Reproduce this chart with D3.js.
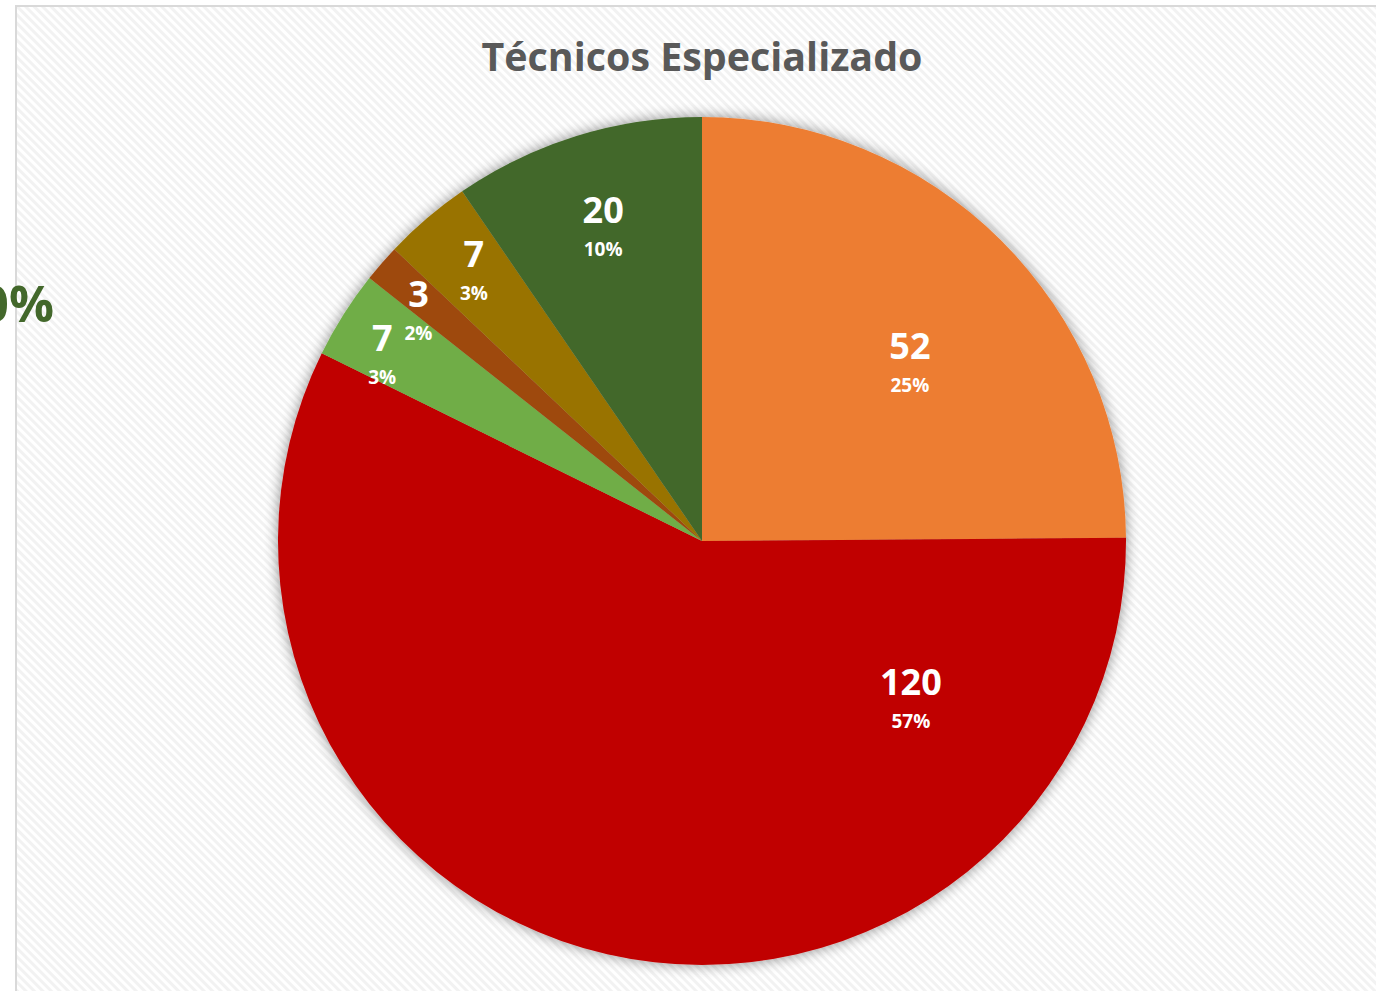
<!DOCTYPE html>
<html lang="es">
<head>
<meta charset="utf-8">
<title>Técnicos Especializado</title>
<script src="https://cdn.jsdelivr.net/npm/d3@7"></script>
<style>
  body { margin: 0; background: #fff; }
  svg { display: block; }
</style>
</head>
<body>
<script>
// Datos
var categories = ["A", "B", "C", "D", "E", "F"];
var values = [52, 120, 7, 3, 7, 20];
var pctLabels = ["25%", "57%", "3%", "2%", "3%", "10%"];
var colors = ["#ED7D31", "#C00000", "#70AD47", "#9E480E", "#997300", "#43682B"];

// Layout
var w = 1376, h = 991;
var cx = 702, cy = 541, radius = 424;
var font = "'Open Sans', 'Noto Sans', sans-serif";
// label placement: radius fraction and angle (degrees clockwise from top)
var labelR = [0.642, 0.620, 0.870, 0.858, 0.830, 0.771];
var labelA = [49.8, 127.4, 299.9, 308.8, 319.6, 342.4];

var svg = d3.select("body").append("svg")
  .attr("width", w)
  .attr("height", h);

var defs = svg.append("defs");

var pat = defs.append("pattern")
  .attr("id", "hatch")
  .attr("patternUnits", "userSpaceOnUse")
  .attr("width", 6)
  .attr("height", 6)
  .attr("patternTransform", "rotate(-45)");
pat.append("rect").attr("width", 6).attr("height", 6).attr("fill", "#ffffff");
pat.append("rect").attr("width", 3).attr("height", 6).attr("fill", "#f2f2f2");

var shadow = defs.append("filter")
  .attr("id", "shadow")
  .attr("x", "-10%").attr("y", "-10%")
  .attr("width", "120%").attr("height", "120%");
shadow.append("feGaussianBlur").attr("in", "SourceAlpha").attr("stdDeviation", 7).attr("result", "blur");
shadow.append("feComponentTransfer").attr("in", "blur").attr("result", "soft")
  .append("feFuncA").attr("type", "linear").attr("slope", 0.45);
var merge = shadow.append("feMerge");
merge.append("feMergeNode").attr("in", "soft");
merge.append("feMergeNode").attr("in", "SourceGraphic");

// chart area
svg.append("rect")
  .attr("x", 16).attr("y", 6)
  .attr("width", w + 10).attr("height", h + 10)
  .attr("fill", "url(#hatch)")
  .attr("stroke", "#d9d9d9")
  .attr("stroke-width", 2);

// title
svg.append("text")
  .attr("x", 702)
  .attr("y", 71)
  .attr("text-anchor", "middle")
  .attr("font-family", font)
  .attr("font-weight", "bold")
  .attr("font-size", "39.4px")
  .attr("fill", "#595959")
  .text("Técnicos Especializado");

var pie = d3.pie().sort(null).value(function(d) { return d; });
var arcs = pie(values);
var arc = d3.arc().innerRadius(0).outerRadius(radius);

var g = svg.append("g").attr("transform", "translate(" + cx + "," + cy + ")");

g.append("g")
  .attr("filter", "url(#shadow)")
  .selectAll("path")
  .data(arcs)
  .enter()
  .append("path")
  .attr("d", arc)
  .attr("fill", function(d, i) { return colors[i]; })
  .attr("stroke", "none");

var labels = g.selectAll("g.lbl")
  .data(arcs)
  .enter()
  .append("g")
  .attr("class", "lbl")
  .attr("transform", function(d, i) {
    var a = labelA[i] * Math.PI / 180;
    var r = radius * labelR[i];
    return "translate(" + (Math.sin(a) * r) + "," + (-Math.cos(a) * r) + ")";
  });

labels.append("text")
  .attr("y", -6)
  .attr("text-anchor", "middle")
  .attr("font-family", font)
  .attr("font-weight", "bold")
  .attr("font-size", "36px")
  .attr("fill", "#ffffff")
  .text(function(d) { return d.data; });

labels.append("text")
  .attr("y", 27)
  .attr("text-anchor", "middle")
  .attr("font-family", font)
  .attr("font-weight", "bold")
  .attr("font-size", "19px")
  .attr("fill", "#ffffff")
  .text(function(d, i) { return pctLabels[i]; });

// part of the neighbouring chart, cut off at the left edge
svg.append("text")
  .attr("x", 54)
  .attr("y", 322)
  .attr("text-anchor", "end")
  .attr("font-family", font)
  .attr("font-weight", "bold")
  .attr("font-size", "50px")
  .attr("fill", "#43682B")
  .text("10%");
</script>
</body>
</html>
